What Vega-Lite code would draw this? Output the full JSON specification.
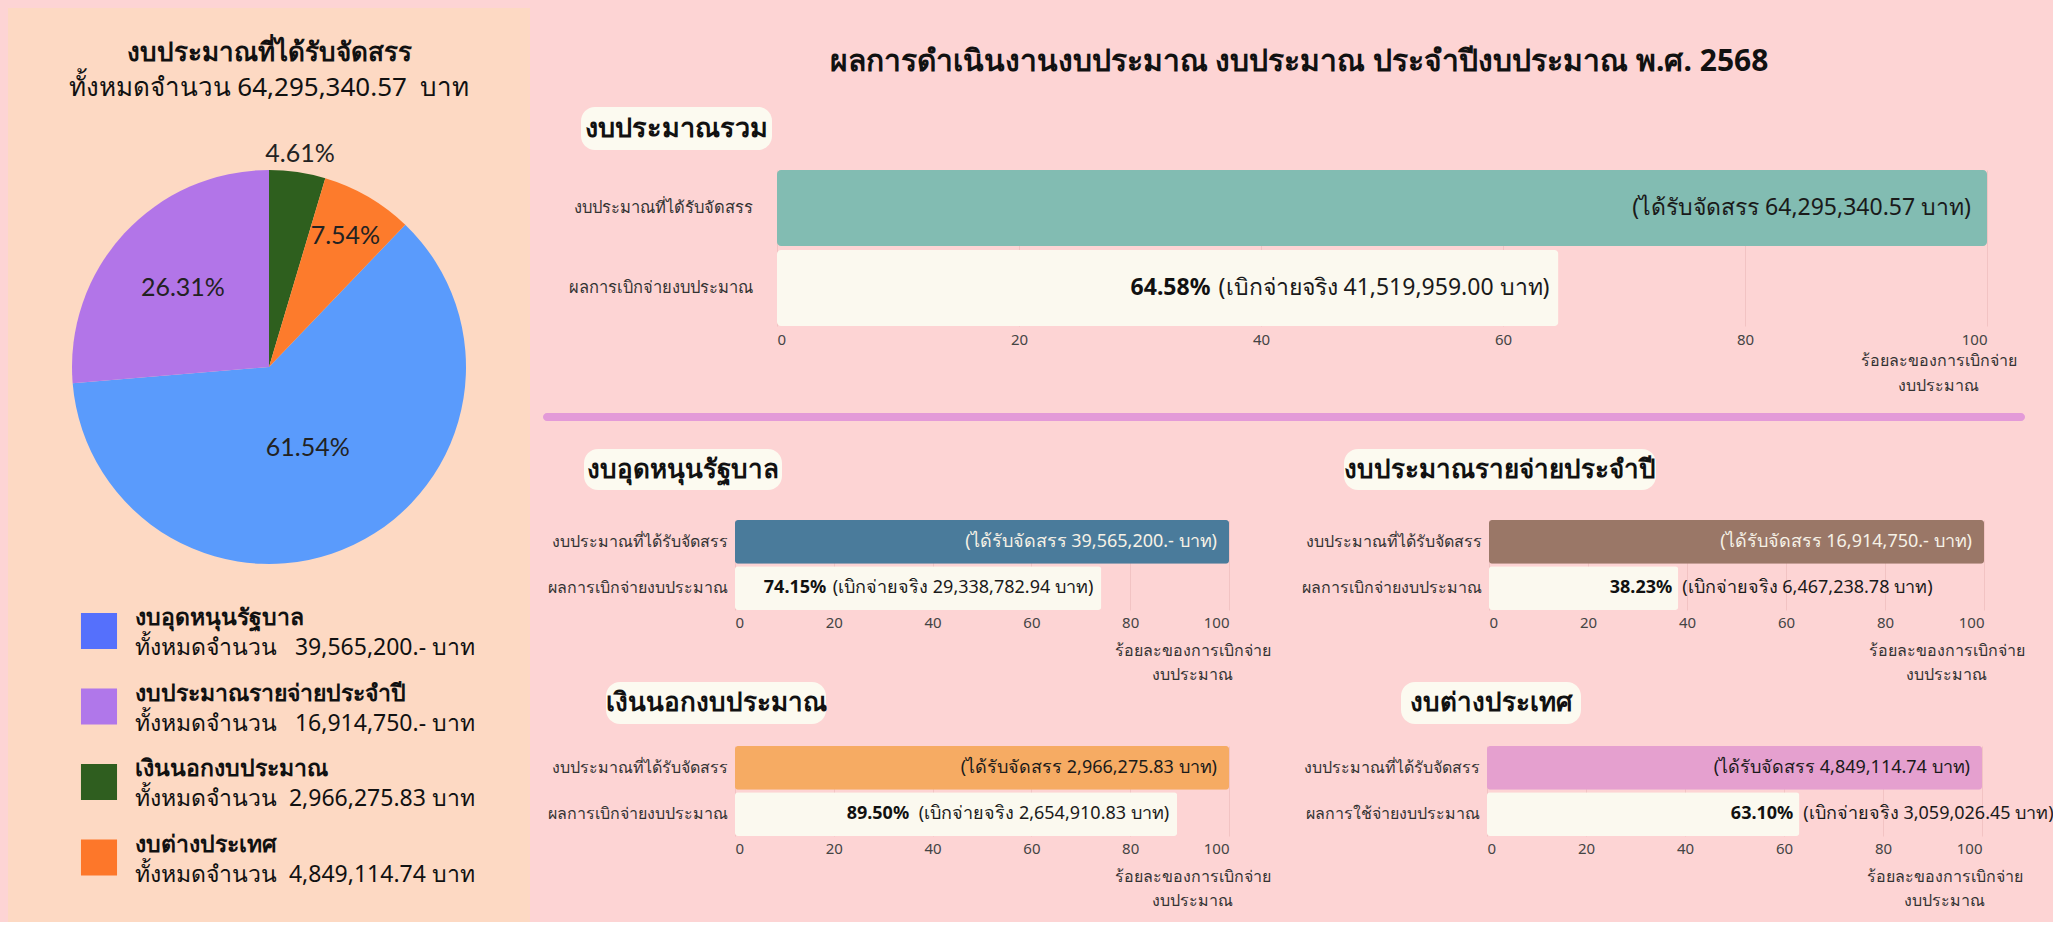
{
  "$schema": "https://vega.github.io/schema/vega-lite/v6.json",
  "padding": {"left": 8, "top": 8, "right": 0, "bottom": 0},
  "config": {
    "background": "#fdd4d4",
    "font": "Noto Sans",
    "view": {"stroke": null}
  },
  "datasets": {
    "budget": [
      {"cat": "งบอุดหนุนรัฐบาล", "amount": 39565200, "pct": 61.54, "pctText": "61.54%", "seq": 3, "total": "ทั้งหมดจำนวน\u00a0\u00a0 39,565,200.- บาท"},
      {"cat": "งบประมาณรายจ่ายประจำปี", "amount": 16914750, "pct": 26.31, "pctText": "26.31%", "seq": 4, "total": "ทั้งหมดจำนวน\u00a0\u00a0 16,914,750.- บาท"},
      {"cat": "เงินนอกงบประมาณ", "amount": 2966275.83, "pct": 4.61, "pctText": "4.61%", "seq": 1, "total": "ทั้งหมดจำนวน\u00a0 2,966,275.83 บาท"},
      {"cat": "งบต่างประเทศ", "amount": 4849114.74, "pct": 7.54, "pctText": "7.54%", "seq": 2, "total": "ทั้งหมดจำนวน\u00a0 4,849,114.74 บาท"}
    ],
    "total": [
      {"item": "งบประมาณที่ได้รับจัดสรร", "pct": 100, "label": "(ได้รับจัดสรร 64,295,340.57 บาท)"},
      {"item": "ผลการเบิกจ่ายงบประมาณ", "pct": 64.58, "pctText": "64.58%", "label": "(เบิกจ่ายจริง 41,519,959.00 บาท)"}
    ],
    "gov": [
      {"item": "งบประมาณที่ได้รับจัดสรร", "pct": 100, "label": "(ได้รับจัดสรร 39,565,200.- บาท)"},
      {"item": "ผลการเบิกจ่ายงบประมาณ", "pct": 74.15, "pctText": "74.15%", "label": "(เบิกจ่ายจริง 29,338,782.94 บาท)"}
    ],
    "annual": [
      {"item": "งบประมาณที่ได้รับจัดสรร", "pct": 100, "label": "(ได้รับจัดสรร 16,914,750.- บาท)"},
      {"item": "ผลการเบิกจ่ายงบประมาณ", "pct": 38.23, "pctText": "38.23%", "label": "(เบิกจ่ายจริง 6,467,238.78 บาท)"}
    ],
    "offbudget": [
      {"item": "งบประมาณที่ได้รับจัดสรร", "pct": 100, "label": "(ได้รับจัดสรร 2,966,275.83 บาท)"},
      {"item": "ผลการเบิกจ่ายงบประมาณ", "pct": 89.5, "pctText": "89.50%", "label": "(เบิกจ่ายจริง 2,654,910.83 บาท)"}
    ],
    "foreign": [
      {"item": "งบประมาณที่ได้รับจัดสรร", "pct": 100, "label": "(ได้รับจัดสรร 4,849,114.74 บาท)"},
      {"item": "ผลการใช้จ่ายงบประมาณ", "pct": 63.1, "pctText": "63.10%", "label": "(เบิกจ่ายจริง 3,059,026.45 บาท)"}
    ]
  },
  "spacing": 13,
  "resolve": {"scale": {"color": "independent"}},
  "hconcat": [
    {
      "concat": [
        {
          "width": 522, "height": 126,
          "view": {"fill": "#fdd9c3", "stroke": null},
          "data": {"values": [{"line": 1, "text": "งบประมาณที่ได้รับจัดสรร"}, {"line": 2, "text": "ทั้งหมดจำนวน 64,295,340.57\u00a0 บาท"}]},
          "layer": [
            {"transform": [{"filter": "datum.line === 1"}], "mark": {"type": "text", "fontSize": 26, "fontWeight": "bold", "dy": -18, "color": "#111111"}, "encoding": {"text": {"field": "text"}}},
            {"transform": [{"filter": "datum.line === 2"}], "mark": {"type": "text", "fontSize": 26, "dy": 17, "color": "#111111"}, "encoding": {"text": {"field": "text"}}}
          ]
        },
        {
          "width": 522, "height": 466,
          "view": {"fill": "#fdd9c3", "stroke": null},
          "data": {"name": "budget"},
          "encoding": {
            "theta": {"field": "amount", "type": "quantitative", "stack": true},
            "order": {"field": "seq", "type": "quantitative"}
          },
          "layer": [
            {"mark": {"type": "arc", "outerRadius": 197}, "encoding": {"color": {"field": "cat", "type": "nominal", "scale": {"domain": ["เงินนอกงบประมาณ", "งบต่างประเทศ", "งบอุดหนุนรัฐบาล", "งบประมาณรายจ่ายประจำปี"], "range": ["#2e5f1e", "#fd7b2c", "#5a9bfc", "#b275e8"]}, "legend": null}}},
            {"mark": {"type": "text", "radius": 215, "fontSize": 25, "font": "Lato", "color": "#222222"}, "encoding": {"text": {"field": "pctText", "condition": {"test": "datum.seq !== 1", "value": ""}}}},
            {"mark": {"type": "text", "radius": 152, "fontSize": 25, "font": "Lato", "color": "#222222"}, "encoding": {"text": {"field": "pctText", "condition": {"test": "datum.seq !== 2", "value": ""}}}},
            {"mark": {"type": "text", "radius": 90, "fontSize": 25, "font": "Lato", "color": "#222222"}, "encoding": {"text": {"field": "pctText", "condition": {"test": "datum.seq !== 3", "value": ""}}}},
            {"mark": {"type": "text", "radius": 117, "fontSize": 25, "font": "Lato", "color": "#222222"}, "encoding": {"text": {"field": "pctText", "condition": {"test": "datum.seq !== 4", "value": ""}}}}
          ]
        },
        {
          "width": 522, "height": 322,
          "view": {"fill": "#fdd9c3", "stroke": null},
          "data": {"name": "budget"},
          "encoding": {"y": {"field": "cat", "type": "nominal", "sort": ["งบอุดหนุนรัฐบาล", "งบประมาณรายจ่ายประจำปี", "เงินนอกงบประมาณ", "งบต่างประเทศ"], "axis": null, "scale": {"type": "point", "padding": 0.632, "align": 0.325}}},
          "layer": [
            {"mark": {"type": "square", "size": 1300, "opacity": 1, "xOffset": -170}, "encoding": {"color": {"field": "cat", "type": "nominal", "scale": {"domain": ["งบอุดหนุนรัฐบาล", "งบประมาณรายจ่ายประจำปี", "เงินนอกงบประมาณ", "งบต่างประเทศ"], "range": ["#5570fc", "#b077ea", "#2f5e1f", "#fd772a"]}, "legend": null}}},
            {"mark": {"type": "text", "align": "left", "dx": -134, "dy": -13, "fontSize": 23, "fontWeight": "bold", "color": "#111111"}, "encoding": {"text": {"field": "cat"}}},
            {"mark": {"type": "text", "align": "left", "dx": -134, "dy": 17, "fontSize": 23, "color": "#111111"}, "encoding": {"text": {"field": "total"}}}
          ]
        }
      ],
      "columns": 1, "spacing": 0, "align": "none",
      "resolve": {"scale": {"color": "independent"}}
    },
    {
      "concat": [
        {
          "concat": [
            {
              "width": 1482, "height": 79,
              "data": {"values": [{"t": "ผลการดำเนินงานงบประมาณ งบประมาณ ประจำปีงบประมาณ พ.ศ. 2568"}]},
              "mark": {"type": "text", "fontSize": 30, "fontWeight": "bold", "dx": 15, "dy": 14, "color": "#111111"},
              "encoding": {"text": {"field": "t"}}
            },
            {
              "hconcat": [
                {"width": 1, "height": 1, "data": {"values": []}, "mark": "point"},
                {"width": 191, "height": 43, "view": {"fill": "#fcfaf0", "cornerRadius": 14, "stroke": null}, "data": {"values": [{"t": "งบประมาณรวม"}]}, "mark": {"type": "text", "fontSize": 27, "fontWeight": "bold", "color": "#111111"}, "encoding": {"text": {"field": "t"}}}
              ],
              "spacing": 37
            },
            {
              "hconcat": [
                {"width": 1, "height": 1, "data": {"values": []}, "mark": "point"},
                {
                  "width": 1210, "height": 156,
                  "data": {"name": "total"},
                  "encoding": {"y": {"field": "item", "type": "nominal", "sort": null, "title": null, "scale": {"paddingInner": 0.05, "paddingOuter": 0}, "axis": {"labelFontSize": 16.5, "labelColor": "#333333", "labelPadding": 25, "ticks": false, "domain": false, "labelLimit": 400}}},
                  "layer": [
                    {"mark": {"type": "bar", "cornerRadius": 4}, "encoding": {
                      "x": {"field": "pct", "type": "quantitative", "scale": {"domain": [0, 100]}, "axis": {"values": [0, 20, 40, 60, 80, 100], "grid": true, "gridColor": "#f2c3c3", "domain": false, "ticks": false, "labelFontSize": 15, "labelColor": "#444444", "labelPadding": 6, "title": ["ร้อยละของการเบิกจ่าย", "งบประมาณ"], "titleFontSize": 16, "titleFontWeight": "normal", "titleColor": "#333333", "titleX": 1161, "titleY": 26, "titleBaseline": "top", "titleAlign": "center", "titleLineHeight": 25}},
                      "color": {"field": "item", "type": "nominal", "scale": {"domain": ["งบประมาณที่ได้รับจัดสรร", "ผลการเบิกจ่ายงบประมาณ"], "range": ["#82bcb2", "#fbf9ef"]}, "legend": null}}},
                    {"transform": [{"filter": "datum.pct === 100"}], "mark": {"type": "text", "align": "right", "dx": -16, "fontSize": 23, "color": "#1a1a1a"}, "encoding": {"x": {"field": "pct", "type": "quantitative"}, "text": {"field": "label"}}},
                    {"transform": [{"filter": "datum.pct < 100"}], "mark": {"type": "text", "align": "right", "dx": -9, "fontSize": 23, "color": "#1a1a1a"}, "encoding": {"x": {"field": "pct", "type": "quantitative"}, "text": {"field": "label"}}},
                    {"transform": [{"filter": "datum.pct < 100"}], "mark": {"type": "text", "align": "right", "dx": -348, "fontSize": 23, "fontWeight": "bold", "color": "#111111"}, "encoding": {"x": {"field": "pct", "type": "quantitative"}, "text": {"field": "pctText"}}}
                  ]
                }
              ],
              "spacing": 24
            }
          ],
          "columns": 1, "spacing": 20, "align": "none",
          "resolve": {"scale": {"color": "independent"}}
        },
        {
          "concat": [
            {"width": 1482, "height": 8, "view": {"fill": "#e39ad8", "cornerRadius": 4, "stroke": null}, "data": {"values": []}, "mark": "point"},
            {
              "hconcat": [
                {
                  "concat": [
                    {
                      "concat": [
                        {"hconcat": [
                          {"width": 1, "height": 1, "data": {"values": []}, "mark": "point"},
                          {"width": 198, "height": 41, "view": {"fill": "#fcfaf0", "cornerRadius": 14, "stroke": null}, "data": {"values": [{"t": "งบอุดหนุนรัฐบาล"}]}, "mark": {"type": "text", "fontSize": 26, "fontWeight": "bold", "color": "#111111"}, "encoding": {"text": {"field": "t"}}}
                        ], "spacing": 40},
                        {"hconcat": [
                          {"width": 1, "height": 1, "data": {"values": []}, "mark": "point"},
                          {
                            "width": 494, "height": 90,
                            "data": {"name": "gov"},
                            "encoding": {"y": {"field": "item", "type": "nominal", "sort": null, "title": null, "scale": {"paddingInner": 0.05, "paddingOuter": 0}, "axis": {"labelFontSize": 16, "labelColor": "#333333", "labelPadding": 8, "ticks": false, "domain": false, "labelLimit": 400}}},
                            "layer": [
                              {"mark": {"type": "bar", "cornerRadius": 3}, "encoding": {
                                "x": {"field": "pct", "type": "quantitative", "scale": {"domain": [0, 100]}, "axis": {"values": [0, 20, 40, 60, 80, 100], "grid": true, "gridColor": "#f2c3c3", "domain": false, "ticks": false, "labelFontSize": 15, "labelColor": "#444444", "labelPadding": 5, "title": ["ร้อยละของการเบิกจ่าย", "งบประมาณ"], "titleFontSize": 16, "titleFontWeight": "normal", "titleColor": "#333333", "titleX": 457, "titleY": 32, "titleBaseline": "top", "titleAlign": "center", "titleLineHeight": 24}},
                                "color": {"field": "item", "type": "nominal", "scale": {"domain": ["งบประมาณที่ได้รับจัดสรร", "ผลการเบิกจ่ายงบประมาณ"], "range": ["#4a7b9b", "#fbf9ef"]}, "legend": null}}},
                              {"transform": [{"filter": "datum.pct === 100"}], "mark": {"type": "text", "align": "right", "dx": -12, "fontSize": 18, "color": "#f6f1e6"}, "encoding": {"x": {"field": "pct", "type": "quantitative"}, "text": {"field": "label"}}},
                              {"transform": [{"filter": "datum.pct < 100"}], "mark": {"type": "text", "align": "right", "dx": -8, "fontSize": 18, "color": "#1a1a1a"}, "encoding": {"x": {"field": "pct", "type": "quantitative"}, "text": {"field": "label"}}},
                              {"transform": [{"filter": "datum.pct < 100"}], "mark": {"type": "text", "align": "right", "dx": -275, "fontSize": 18, "fontWeight": "bold", "color": "#111111"}, "encoding": {"x": {"field": "pct", "type": "quantitative"}, "text": {"field": "pctText"}}}
                            ]
                          }
                        ], "spacing": 3}
                      ],
                      "columns": 1, "spacing": 30, "align": "none",
                      "resolve": {"scale": {"color": "independent"}}
                    },
                    {
                      "concat": [
                        {"hconcat": [
                          {"width": 1, "height": 1, "data": {"values": []}, "mark": "point"},
                          {"width": 220, "height": 42, "view": {"fill": "#fcfaf0", "cornerRadius": 14, "stroke": null}, "data": {"values": [{"t": "เงินนอกงบประมาณ"}]}, "mark": {"type": "text", "fontSize": 26, "fontWeight": "bold", "color": "#111111"}, "encoding": {"text": {"field": "t"}}}
                        ], "spacing": 61},
                        {"hconcat": [
                          {"width": 1, "height": 1, "data": {"values": []}, "mark": "point"},
                          {
                            "width": 494, "height": 90,
                            "data": {"name": "offbudget"},
                            "encoding": {"y": {"field": "item", "type": "nominal", "sort": null, "title": null, "scale": {"paddingInner": 0.05, "paddingOuter": 0}, "axis": {"labelFontSize": 16, "labelColor": "#333333", "labelPadding": 8, "ticks": false, "domain": false, "labelLimit": 400}}},
                            "layer": [
                              {"mark": {"type": "bar", "cornerRadius": 3}, "encoding": {
                                "x": {"field": "pct", "type": "quantitative", "scale": {"domain": [0, 100]}, "axis": {"values": [0, 20, 40, 60, 80, 100], "grid": true, "gridColor": "#f2c3c3", "domain": false, "ticks": false, "labelFontSize": 15, "labelColor": "#444444", "labelPadding": 5, "title": ["ร้อยละของการเบิกจ่าย", "งบประมาณ"], "titleFontSize": 16, "titleFontWeight": "normal", "titleColor": "#333333", "titleX": 457, "titleY": 32, "titleBaseline": "top", "titleAlign": "center", "titleLineHeight": 24}},
                                "color": {"field": "item", "type": "nominal", "scale": {"domain": ["งบประมาณที่ได้รับจัดสรร", "ผลการเบิกจ่ายงบประมาณ"], "range": ["#f6ab63", "#fbf9ef"]}, "legend": null}}},
                              {"transform": [{"filter": "datum.pct === 100"}], "mark": {"type": "text", "align": "right", "dx": -12, "fontSize": 18, "color": "#1a1a1a"}, "encoding": {"x": {"field": "pct", "type": "quantitative"}, "text": {"field": "label"}}},
                              {"transform": [{"filter": "datum.pct < 100"}], "mark": {"type": "text", "align": "right", "dx": -8, "fontSize": 18, "color": "#1a1a1a"}, "encoding": {"x": {"field": "pct", "type": "quantitative"}, "text": {"field": "label"}}},
                              {"transform": [{"filter": "datum.pct < 100"}], "mark": {"type": "text", "align": "right", "dx": -268, "fontSize": 18, "fontWeight": "bold", "color": "#111111"}, "encoding": {"x": {"field": "pct", "type": "quantitative"}, "text": {"field": "pctText"}}}
                            ]
                          }
                        ], "spacing": 3}
                      ],
                      "columns": 1, "spacing": 22, "align": "none",
                      "resolve": {"scale": {"color": "independent"}}
                    }
                  ],
                  "columns": 1, "spacing": 0, "align": "none",
                  "resolve": {"scale": {"color": "independent"}}
                },
                {
                  "concat": [
                    {
                      "concat": [
                        {"hconcat": [
                          {"width": 1, "height": 1, "data": {"values": []}, "mark": "point"},
                          {"width": 312, "height": 41, "view": {"fill": "#fcfaf0", "cornerRadius": 14, "stroke": null}, "data": {"values": [{"t": "งบประมาณรายจ่ายประจำปี"}]}, "mark": {"type": "text", "fontSize": 26, "fontWeight": "bold", "color": "#111111"}, "encoding": {"text": {"field": "t"}}}
                        ], "spacing": 46},
                        {"hconcat": [
                          {"width": 1, "height": 1, "data": {"values": []}, "mark": "point"},
                          {
                            "width": 495, "height": 90,
                            "data": {"name": "annual"},
                            "encoding": {"y": {"field": "item", "type": "nominal", "sort": null, "title": null, "scale": {"paddingInner": 0.05, "paddingOuter": 0}, "axis": {"labelFontSize": 16, "labelColor": "#333333", "labelPadding": 8, "ticks": false, "domain": false, "labelLimit": 400}}},
                            "layer": [
                              {"mark": {"type": "bar", "cornerRadius": 3}, "encoding": {
                                "x": {"field": "pct", "type": "quantitative", "scale": {"domain": [0, 100]}, "axis": {"values": [0, 20, 40, 60, 80, 100], "grid": true, "gridColor": "#f2c3c3", "domain": false, "ticks": false, "labelFontSize": 15, "labelColor": "#444444", "labelPadding": 5, "title": ["ร้อยละของการเบิกจ่าย", "งบประมาณ"], "titleFontSize": 16, "titleFontWeight": "normal", "titleColor": "#333333", "titleX": 457, "titleY": 32, "titleBaseline": "top", "titleAlign": "center", "titleLineHeight": 24}},
                                "color": {"field": "item", "type": "nominal", "scale": {"domain": ["งบประมาณที่ได้รับจัดสรร", "ผลการเบิกจ่ายงบประมาณ"], "range": ["#9a7767", "#fbf9ef"]}, "legend": null}}},
                              {"transform": [{"filter": "datum.pct === 100"}], "mark": {"type": "text", "align": "right", "dx": -12, "fontSize": 18, "color": "#f6f1e6"}, "encoding": {"x": {"field": "pct", "type": "quantitative"}, "text": {"field": "label"}}},
                              {"transform": [{"filter": "datum.pct < 100"}], "mark": {"type": "text", "align": "left", "dx": 4, "fontSize": 18, "color": "#1a1a1a"}, "encoding": {"x": {"field": "pct", "type": "quantitative"}, "text": {"field": "label"}}},
                              {"transform": [{"filter": "datum.pct < 100"}], "mark": {"type": "text", "align": "right", "dx": -6, "fontSize": 18, "fontWeight": "bold", "color": "#111111"}, "encoding": {"x": {"field": "pct", "type": "quantitative"}, "text": {"field": "pctText"}}}
                            ]
                          }
                        ], "spacing": 3}
                      ],
                      "columns": 1, "spacing": 30, "align": "none",
                      "resolve": {"scale": {"color": "independent"}}
                    },
                    {
                      "concat": [
                        {"hconcat": [
                          {"width": 1, "height": 1, "data": {"values": []}, "mark": "point"},
                          {"width": 180, "height": 42, "view": {"fill": "#fcfaf0", "cornerRadius": 14, "stroke": null}, "data": {"values": [{"t": "งบต่างประเทศ"}]}, "mark": {"type": "text", "fontSize": 26, "fontWeight": "bold", "color": "#111111"}, "encoding": {"text": {"field": "t"}}}
                        ], "spacing": 103},
                        {"hconcat": [
                          {"width": 1, "height": 1, "data": {"values": []}, "mark": "point"},
                          {
                            "width": 495, "height": 90,
                            "data": {"name": "foreign"},
                            "encoding": {"y": {"field": "item", "type": "nominal", "sort": null, "title": null, "scale": {"paddingInner": 0.05, "paddingOuter": 0}, "axis": {"labelFontSize": 16, "labelColor": "#333333", "labelPadding": 8, "ticks": false, "domain": false, "labelLimit": 400}}},
                            "layer": [
                              {"mark": {"type": "bar", "cornerRadius": 3}, "encoding": {
                                "x": {"field": "pct", "type": "quantitative", "scale": {"domain": [0, 100]}, "axis": {"values": [0, 20, 40, 60, 80, 100], "grid": true, "gridColor": "#f2c3c3", "domain": false, "ticks": false, "labelFontSize": 15, "labelColor": "#444444", "labelPadding": 5, "title": ["ร้อยละของการเบิกจ่าย", "งบประมาณ"], "titleFontSize": 16, "titleFontWeight": "normal", "titleColor": "#333333", "titleX": 457, "titleY": 32, "titleBaseline": "top", "titleAlign": "center", "titleLineHeight": 24}},
                                "color": {"field": "item", "type": "nominal", "scale": {"domain": ["งบประมาณที่ได้รับจัดสรร", "ผลการใช้จ่ายงบประมาณ"], "range": ["#e5a0cf", "#fbf9ef"]}, "legend": null}}},
                              {"transform": [{"filter": "datum.pct === 100"}], "mark": {"type": "text", "align": "right", "dx": -12, "fontSize": 18, "color": "#1a1a1a"}, "encoding": {"x": {"field": "pct", "type": "quantitative"}, "text": {"field": "label"}}},
                              {"transform": [{"filter": "datum.pct < 100"}], "mark": {"type": "text", "align": "left", "dx": 4, "fontSize": 18, "color": "#1a1a1a"}, "encoding": {"x": {"field": "pct", "type": "quantitative"}, "text": {"field": "label"}}},
                              {"transform": [{"filter": "datum.pct < 100"}], "mark": {"type": "text", "align": "right", "dx": -6, "fontSize": 18, "fontWeight": "bold", "color": "#111111"}, "encoding": {"x": {"field": "pct", "type": "quantitative"}, "text": {"field": "pctText"}}}
                            ]
                          }
                        ], "spacing": 5}
                      ],
                      "columns": 1, "spacing": 22, "align": "none",
                      "resolve": {"scale": {"color": "independent"}}
                    }
                  ],
                  "columns": 1, "spacing": 0, "align": "none",
                  "resolve": {"scale": {"color": "independent"}}
                }
              ],
              "spacing": 27,
              "resolve": {"scale": {"color": "independent"}}
            }
          ],
          "columns": 1, "spacing": 28, "align": "none",
          "resolve": {"scale": {"color": "independent"}}
        }
      ],
      "columns": 1, "spacing": 20, "align": "none",
      "resolve": {"scale": {"color": "independent"}}
    }
  ]
}
